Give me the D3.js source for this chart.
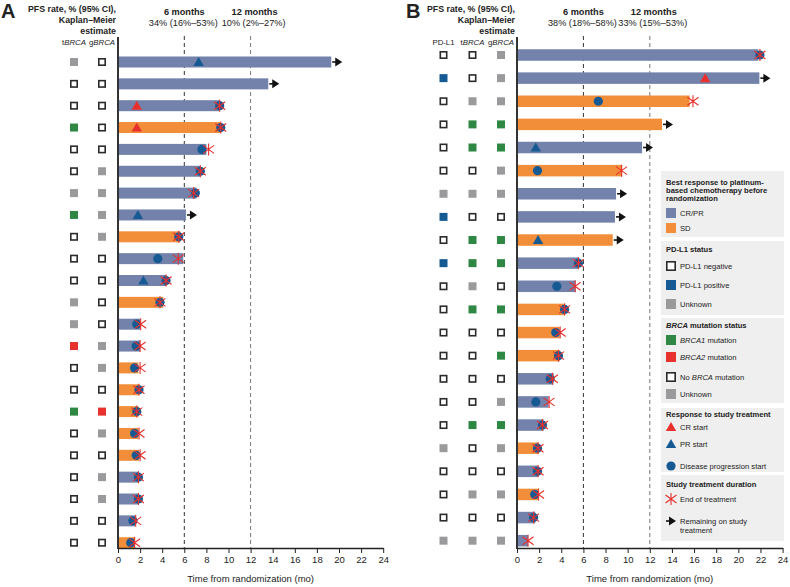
<!DOCTYPE html>
<html>
<head>
<meta charset="utf-8">
<script src="https://cdn.jsdelivr.net/npm/d3@7"></script>
<style>
  body { margin: 0; background: #fff; }
  svg { font-family: "Liberation Sans", Arial, sans-serif; }
</style>
</head>
<body>
<div class="chart"></div>
<script>
// ---- panel A data (top row first) ----
const aBest = ["CR/PR","CR/PR","CR/PR","SD","CR/PR","CR/PR","CR/PR","CR/PR","SD","CR/PR","CR/PR","SD",
               "CR/PR","CR/PR","SD","SD","SD","SD","SD","CR/PR","CR/PR","CR/PR","SD"];
const aDur = [19.3, 13.6, 9.2, 9.3, 8.0, 7.5, 7.1, 6.15, 5.65, 5.9, 4.4, 4.1, 2.0, 2.0, 1.85, 1.9, 1.85, 1.85, 1.9, 1.9, 1.9, 1.55, 1.55];
const aOngoing = [1,1,0,0,0,0,0,1,0,0,0,0,0,0,0,0,0,0,0,0,0,0,0];
const aCR = [null,null,1.7,1.7,null,null,null,null,null,null,null,null,null,null,null,null,null,null,null,null,null,null,null];
const aPR = [7.3,null,null,null,null,null,null,1.8,null,null,2.3,null,null,null,null,null,null,null,null,null,null,null,null];
const aPD = [null,null,9.2,9.3,7.6,7.45,7.0,null,5.5,3.6,4.35,3.8,1.7,1.65,1.5,1.9,1.7,1.5,1.65,1.85,1.85,1.35,1.15];
const aEOT = [null,null,9.2,9.3,8.2,7.45,6.85,null,5.5,5.45,4.35,3.8,2.05,2.0,2.0,1.9,1.7,1.9,2.0,1.85,1.85,1.6,1.5];
const aTBRCA = ["unk","none","none","b1","none","none","unk","b1","none","none","none","unk",
                "unk","b2","none","none","b1","none","none","none","none","none","none"];
const aGBRCA = ["none","none","none","none","none","unk","unk","unk","unk","none","none","none",
                "none","unk","unk","none","b2","unk","none","unk","unk","none","none"];

// ---- panel B data ----
const bBest = ["CR/PR","CR/PR","SD","SD","CR/PR","SD","CR/PR","CR/PR","SD","CR/PR","CR/PR","SD",
               "SD","SD","CR/PR","CR/PR","CR/PR","SD","CR/PR","SD","CR/PR","CR/PR"];
const bDur = [21.8, 21.9, 15.6, 13.1, 11.3, 9.5, 8.95, 8.85, 8.65, 5.6, 5.3, 4.35, 3.85, 3.85, 3.3, 2.85, 2.4, 1.95, 1.95, 1.95, 1.65, 1.0];
const bOngoing = [0,1,0,1,1,0,1,1,1,0,0,0,0,0,0,0,0,0,0,0,0,0];
const bCR = [null,17.0,null,null,null,null,null,null,null,null,null,null,null,null,null,null,null,null,null,null,null,null];
const bPR = [null,null,null,null,1.7,null,null,null,1.9,null,null,null,null,null,null,null,null,null,null,null,null,null];
const bPD = [21.95,null,7.35,null,null,1.85,null,null,null,5.55,3.6,4.3,3.5,3.75,3.0,1.7,2.3,1.85,1.85,1.6,1.5,null];
const bEOT = [21.95,null,15.9,null,null,9.45,null,null,null,5.55,5.25,4.3,3.9,3.75,3.2,2.9,2.3,1.9,1.9,1.95,1.5,1.0];
const bPDL1 = ["neg","pos","neg","neg","neg","neg","unk","pos","neg","pos","neg","neg",
               "neg","neg","neg","neg","neg","unk","neg","neg","neg","unk"];
const bTBRCA = ["none","none","unk","b1","b1","none","unk","none","b1","b1","unk","b1",
                "none","none","none","none","b1","none","none","unk","none","unk"];
const bGBRCA = ["unk","unk","unk","b1","b1","unk","unk","none","b1","b1","none","b1",
                "none","b1","none","unk","b1","unk","none","unk","none","unk"];

const xTicks = [0,2,4,6,8,10,12,14,16,18,20,22,24];

// colours
const barColor = {"CR/PR": "#7282ab", "SD": "#f28e3a"};
const blue = "#155a92", red = "#e8302e", green = "#2e8743", gray = "#9a9a9c", ink = "#222";
const statusFill = {unk: gray, b1: green, b2: red, pos: blue};

const svg = d3.select(".chart").append("svg")
    .attr("width", 790).attr("height", 587);

function square(g, x, y, code, s) {
    s = s || 8;
    if (code === "none" || code === "neg") {
        g.append("rect").attr("x", x - s/2 + 0.8).attr("y", y - s/2 + 0.8)
            .attr("width", s - 1.6).attr("height", s - 1.6)
            .attr("fill", "#fff").attr("stroke", "#2b2b2b").attr("stroke-width", 1.6);
    } else {
        g.append("rect").attr("x", x - s/2).attr("y", y - s/2)
            .attr("width", s).attr("height", s).attr("fill", statusFill[code]);
    }
}
function tri(g, x, y, c) {
    g.append("path").attr("d", `M${x},${y-5} L${x+5.2},${y+4} L${x-5.2},${y+4} Z`).attr("fill", c);
}
function dot(g, x, y) {
    g.append("circle").attr("cx", x).attr("cy", y).attr("r", 4.6).attr("fill", blue);
}
function star(g, x, y) {
    g.append("path")
        .attr("d", `M${x},${y-6} L${x},${y+6} M${x-5.5},${y-4} L${x+5.5},${y+4} M${x-5.5},${y+4} L${x+5.5},${y-4}`)
        .attr("stroke", red).attr("stroke-width", 1.1).attr("fill", "none");
}
function arrow(g, x, y) {
    g.append("path").attr("d", `M${x},${y} L${x+4},${y}`).attr("stroke", "#111").attr("stroke-width", 1.6);
    g.append("path").attr("d", `M${x+3},${y-4.5} L${x+10},${y} L${x+3},${y+4.5} Z`).attr("fill", "#111");
}

function panel(cfg) {
    const g = svg.append("g");
    const n = cfg.best.length;
    const x = d3.scaleLinear().domain([0, 24]).range([cfg.x0, cfg.x1]);
    const y = d3.scaleLinear().domain([0, n - 1]).range([cfg.yTop, cfg.yBot]);
    const axisY = 548;

    // panel letter and header
    g.append("text").attr("x", cfg.letterX).attr("y", 18).attr("font-size", 20).attr("font-weight", "bold")
        .attr("fill", ink).text(cfg.letter);
    ["PFS rate, % (95% CI),", "Kaplan\u2013Meier", "estimate"].forEach((t, i) => {
        g.append("text").attr("x", cfg.x0 - 2).attr("y", 12 + i * 11).attr("text-anchor", "end")
            .attr("font-size", 8.8).attr("font-weight", "bold").attr("fill", ink).text(t);
    });
    cfg.rates.forEach((r, i) => {
        const cx = x(r.month) + (i === 0 ? 0 : 4);
        g.append("text").attr("x", cx).attr("y", 15).attr("text-anchor", "middle")
            .attr("font-size", 9.2).attr("font-weight", "bold").attr("fill", ink).text(r.label);
        g.append("text").attr("x", cx - 1).attr("y", 26).attr("text-anchor", "middle")
            .attr("font-size", 9.2).attr("fill", ink).text(r.ci);
    });

    // column headers
    cfg.cols.forEach(c => {
        const t = g.append("text").attr("x", c.x).attr("y", 45).attr("text-anchor", "middle")
            .attr("font-size", 7.8).attr("fill", ink);
        if (c.pre !== undefined) {
            t.append("tspan").text(c.pre);
            t.append("tspan").attr("font-style", "italic").text("BRCA");
        } else t.text(c.name);
    });

    // reference lines
    [6, 12].forEach((m, i) => {
        g.append("line").attr("x1", x(m)).attr("x2", x(m)).attr("y1", 36).attr("y2", axisY)
            .attr("stroke", i === 0 ? "#333" : "#777").attr("stroke-width", 1).attr("stroke-dasharray", "4,3");
    });

    // bars
    const barH = cfg.barH;
    d3.range(n).forEach(i => {
        const yy = y(i);
        g.append("rect").attr("x", x(0)).attr("y", yy - barH / 2)
            .attr("width", x(cfg.dur[i]) - x(0)).attr("height", barH)
            .attr("fill", barColor[cfg.best[i]]);
        cfg.cols.forEach(c => square(g, c.x, yy, c.data[i]));
    });
    d3.range(n).forEach(i => {
        const yy = y(i);
        if (cfg.pd[i] != null) dot(g, x(cfg.pd[i]), yy);
        if (cfg.eot[i] != null) star(g, x(cfg.eot[i]), yy);
        if (cfg.cr[i] != null) tri(g, x(cfg.cr[i]), yy, red);
        if (cfg.pr[i] != null) tri(g, x(cfg.pr[i]), yy, blue);
        if (cfg.ongoing[i]) arrow(g, x(cfg.dur[i]) + 1, yy);
    });

    // axes
    g.append("line").attr("x1", x(0)).attr("x2", x(0)).attr("y1", 37).attr("y2", axisY + 1)
        .attr("stroke", "#333").attr("stroke-width", 2);
    const ax = g.append("g").attr("transform", `translate(0,${axisY})`)
        .call(d3.axisBottom(x).tickValues(xTicks).tickSize(5).tickSizeOuter(0).tickPadding(3));
    ax.select(".domain").attr("stroke", "#222").attr("stroke-width", 1.3);
    ax.selectAll(".tick line").attr("stroke", "#222");
    ax.selectAll(".tick text").attr("font-size", 9.5).attr("fill", ink)
        .attr("font-family", "Liberation Sans, Arial, sans-serif");
    g.append("text").attr("x", x(12)).attr("y", 582).attr("text-anchor", "middle")
        .attr("font-size", 9.5).attr("fill", ink).text("Time from randomization (mo)");
}

panel({
    letter: "A", letterX: 1, x0: 118, x1: 383.2, yTop: 62, yBot: 542.7, barH: 11,
    best: aBest, dur: aDur, ongoing: aOngoing, cr: aCR, pr: aPR, pd: aPD, eot: aEOT,
    cols: [{pre: "t", x: 74, data: aTBRCA}, {pre: "g", x: 102, data: aGBRCA}],
    rates: [{month: 6, label: "6 months", ci: "34% (16%\u201353%)"},
            {month: 12, label: "12 months", ci: "10% (2%\u201327%)"}]
});
panel({
    letter: "B", letterX: 406, x0: 517, x1: 782.6, yTop: 55, yBot: 540.7, barH: 11.5,
    best: bBest, dur: bDur, ongoing: bOngoing, cr: bCR, pr: bPR, pd: bPD, eot: bEOT,
    cols: [{name: "PD-L1", x: 443.5, data: bPDL1}, {pre: "t", x: 472.5, data: bTBRCA},
           {pre: "g", x: 501, data: bGBRCA}],
    rates: [{month: 6, label: "6 months", ci: "38% (18%\u201358%)"},
            {month: 12, label: "12 months", ci: "33% (15%\u201353%)"}]
});

// ---- legend ----
const leg = svg.append("g");
const lx = 661, lw = 123, sx = 671, tx = 680;
const boxes = [[171, 237], [241, 315], [318, 403], [408, 472], [475, 541]];
boxes.forEach(b => leg.append("rect").attr("x", lx).attr("y", b[0]).attr("width", lw)
    .attr("height", b[1] - b[0]).attr("fill", "#efefef"));

function ltext(x, y, parts, bold) {
    const t = leg.append("text").attr("x", x).attr("y", y + 2.6).attr("font-size", 7.6)
        .attr("fill", ink).attr("font-weight", bold ? "bold" : "normal");
    parts.forEach(p => {
        const s = t.append("tspan").text(typeof p === "string" ? p : p.i);
        if (typeof p !== "string") s.attr("font-style", "italic");
    });
}
const swatch = (y, code) => square(leg, sx, y, code, 10);

ltext(666, 182, ["Best response to platinum-"], true);
ltext(666, 190, ["based chemotherapy before"], true);
ltext(666, 198, ["randomization"], true);
leg.append("rect").attr("x", sx - 5).attr("y", 208).attr("width", 10).attr("height", 10).attr("fill", barColor["CR/PR"]);
ltext(tx, 213, ["CR/PR"]);
leg.append("rect").attr("x", sx - 5).attr("y", 223).attr("width", 10).attr("height", 10).attr("fill", barColor["SD"]);
ltext(tx, 228, ["SD"]);

ltext(666, 249, ["PD-L1 status"], true);
swatch(266, "neg"); ltext(tx, 266, ["PD-L1 negative"]);
swatch(285, "pos"); ltext(tx, 285, ["PD-L1 positive"]);
swatch(304, "unk"); ltext(tx, 304, ["Unknown"]);

ltext(666, 325, [{i: "BRCA"}, " mutation status"], true);
swatch(340, "b1"); ltext(tx, 340, [{i: "BRCA1"}, " mutation"]);
swatch(357, "b2"); ltext(tx, 357, [{i: "BRCA2"}, " mutation"]);
swatch(377, "none"); ltext(tx, 377, ["No ", {i: "BRCA"}, " mutation"]);
swatch(394, "unk"); ltext(tx, 394, ["Unknown"]);

ltext(666, 414, ["Response to study treatment"], true);
tri(leg, sx, 427, red); ltext(tx, 427, ["CR start"]);
tri(leg, sx, 444, blue); ltext(tx, 444, ["PR start"]);
dot(leg, sx, 466); ltext(tx, 466, ["Disease progression start"]);

ltext(666, 484, ["Study treatment duration"], true);
star(leg, sx, 499); ltext(tx, 499, ["End of treatment"]);
arrow(leg, sx - 5, 521); ltext(tx, 521, ["Remaining on study"]);
ltext(tx, 530, ["treatment"]);
</script>
</body>
</html>
